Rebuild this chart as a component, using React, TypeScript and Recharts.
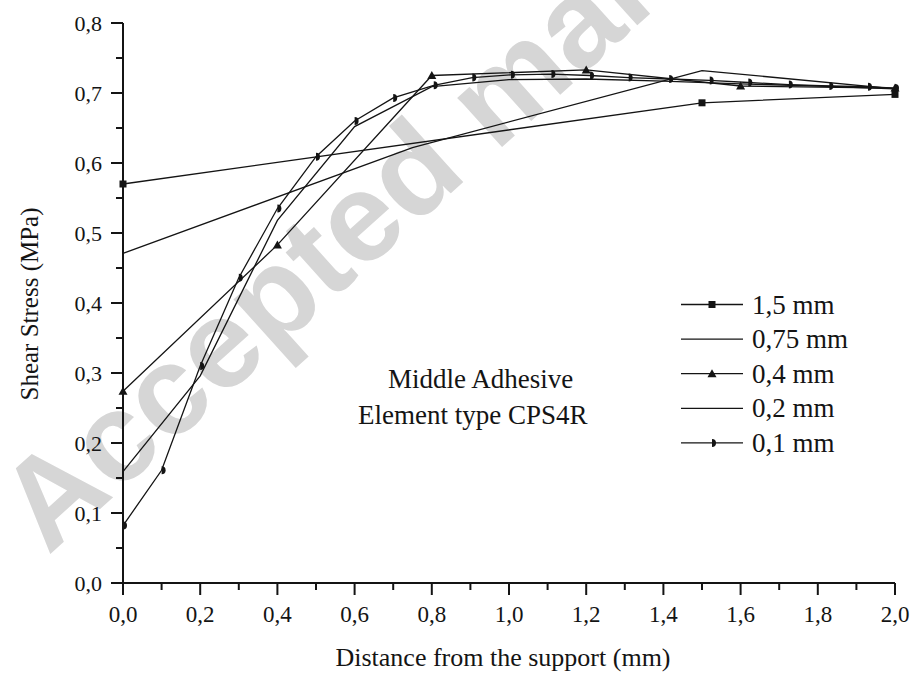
import { LineChart, Line, XAxis, YAxis, Legend } from 'recharts';

const FONT = '"Liberation Serif", "Times New Roman", serif';
const INK = '#141414';

// 1,5 mm mesh
const x15 = [0, 1.5, 2.0];
const y15 = [0.57, 0.686, 0.698];

// 0,75 mm mesh
const x075 = [0, 0.75, 1.5, 2.0];
const y075 = [0.471, 0.622, 0.732, 0.706];

// 0,4 mm mesh
const x04 = [0, 0.4, 0.8, 1.2, 1.6, 2.0];
const y04 = [0.274, 0.483, 0.725, 0.733, 0.71, 0.707];

// 0,2 mm mesh
const x02 = [0, 0.2, 0.4, 0.6, 0.8, 1.0, 1.2, 1.4, 1.6, 1.8, 2.0];
const y02 = [0.159, 0.296, 0.518, 0.652, 0.709, 0.719, 0.72, 0.717, 0.713, 0.71, 0.706];

// 0,1 mm mesh
const x01 = [0, 0.1, 0.2, 0.3, 0.4, 0.5, 0.6, 0.7, 0.805, 0.905, 1.005, 1.11, 1.21, 1.31, 1.415, 1.52, 1.62, 1.725, 1.83, 1.93, 2.0];
const y01 = [0.082, 0.161, 0.31, 0.436, 0.535, 0.609, 0.66, 0.693, 0.711, 0.722, 0.726, 0.727, 0.725, 0.722, 0.72, 0.718, 0.715, 0.712, 0.71, 0.709, 0.707];

const xTicks = [0, 0.1, 0.2, 0.3, 0.4, 0.5, 0.6, 0.7, 0.8, 0.9, 1.0, 1.1, 1.2, 1.3, 1.4, 1.5, 1.6, 1.7, 1.8, 1.9, 2.0];
const yTicks = [0, 0.05, 0.1, 0.15, 0.2, 0.25, 0.3, 0.35, 0.4, 0.45, 0.5, 0.55, 0.6, 0.65, 0.7, 0.75, 0.8];

type MarkerKind = 'square' | 'triangle' | 'half' | 'none';

const series = [
  { name: '1,5 mm', xs: x15, ys: y15, marker: 'square' as MarkerKind },
  { name: '0,75 mm', xs: x075, ys: y075, marker: 'none' as MarkerKind },
  { name: '0,4 mm', xs: x04, ys: y04, marker: 'triangle' as MarkerKind },
  { name: '0,2 mm', xs: x02, ys: y02, marker: 'none' as MarkerKind },
  { name: '0,1 mm', xs: x01, ys: y01, marker: 'half' as MarkerKind },
].map((s) => ({ ...s, data: s.xs.map((x, i) => ({ x, y: s.ys[i] })) }));

function Marker({ kind, cx, cy }: { kind: MarkerKind; cx: number; cy: number }) {
  if (kind === 'square') return <rect x={cx - 3.5} y={cy - 3.5} width={7} height={7} fill={INK} />;
  if (kind === 'triangle')
    return <path d={`M${cx},${cy - 4.5} L${cx + 4.5},${cy + 3.5} L${cx - 4.5},${cy + 3.5} Z`} fill={INK} />;
  if (kind === 'half') return <path d={`M${cx},${cy - 4} A4,4 0 0 1 ${cx},${cy + 4} Z`} fill={INK} />;
  return null;
}

const fmt = (v: number) => v.toFixed(1).replace('.', ',');

function XTick({ x, y, payload }: any) {
  const major = Math.round(payload.value * 10) % 2 === 0;
  return (
    <g>
      <line x1={x} x2={x} y1={y} y2={y + (major ? 12 : 7)} stroke={INK} strokeWidth={2} />
      {major && (
        <text x={x} y={y + 39} textAnchor="middle" fontSize={23} fontFamily={FONT} fill={INK}>
          {fmt(payload.value)}
        </text>
      )}
    </g>
  );
}

function YTick({ x, y, payload }: any) {
  const major = Math.round(payload.value * 100) % 10 === 0;
  return (
    <g>
      <line x1={x} x2={x - (major ? 12 : 7)} y1={y} y2={y} stroke={INK} strokeWidth={2} />
      {major && (
        <text x={x - 21} y={y + 8} textAnchor="end" fontSize={22} fontFamily={FONT} fill={INK}>
          {fmt(payload.value)}
        </text>
      )}
    </g>
  );
}

function LegendBox() {
  return (
    <svg width={230} height={180}>
      {series.map((s, i) => {
        const cy = 19.5 + i * 34.6;
        return (
          <g key={s.name}>
            <line x1={6} x2={68} y1={cy} y2={cy} stroke={INK} strokeWidth={1.3} />
            <Marker kind={s.marker} cx={37} cy={cy} />
            <text x={77} y={cy + 9} fontSize={27} fontFamily={FONT} fill={INK}>
              {s.name}
            </text>
          </g>
        );
      })}
    </svg>
  );
}

export default function App() {
  return (
    <div style={{ position: 'absolute', left: 0, top: 0, width: 912, height: 673, overflow: 'hidden', background: '#fff' }}>
      {/* faint diagonal stamp behind the plot */}
      <svg width={912} height={673} style={{ position: 'absolute', left: 0, top: 0 }}>
        <text
          x={48}
          y={556}
          transform="rotate(-42 48 556)"
          fontSize={126}
          fontWeight="bold"
          fontFamily='"Liberation Sans", Arial, sans-serif'
          fill="#d6d6d6"
        >
          Accepted manuscript
        </text>
      </svg>
      <div style={{ position: 'absolute', left: 0, top: 0 }}>
        <LineChart width={912} height={673} margin={{ top: 23, right: 17, bottom: 0, left: 0 }}>
          <XAxis
            dataKey="x"
            type="number"
            domain={[0, 2]}
            ticks={xTicks}
            interval={0}
            height={90}
            tickSize={0}
            tickMargin={0}
            tickLine={false}
            axisLine={{ stroke: INK, strokeWidth: 2 }}
            tick={<XTick />}
            label={{
              content: () => (
                <text x={503} y={666} textAnchor="middle" fontSize={26} fontFamily={FONT} fill={INK}>
                  Distance from the support (mm)
                </text>
              ),
            }}
          />
          <YAxis
            type="number"
            domain={[0, 0.8]}
            ticks={yTicks}
            interval={0}
            width={123}
            tickSize={0}
            tickMargin={0}
            tickLine={false}
            axisLine={{ stroke: INK, strokeWidth: 2 }}
            tick={<YTick />}
            label={{
              content: () => (
                <text
                  x={38}
                  y={304}
                  transform="rotate(-90 38 304)"
                  textAnchor="middle"
                  fontSize={25}
                  fontFamily={FONT}
                  fill={INK}
                >
                  Shear Stress (MPa)
                </text>
              ),
            }}
          />
          {series.map((s) => (
            <Line
              key={s.name}
              name={s.name}
              data={s.data}
              dataKey="y"
              type="linear"
              stroke={INK}
              strokeWidth={1.3}
              dot={(p: any) => <Marker key={`${s.name}-${p.index}`} kind={s.marker} cx={p.cx} cy={p.cy} />}
              activeDot={false}
              isAnimationActive={false}
            />
          ))}
          <Legend
            layout="horizontal"
            verticalAlign="middle"
            align="center"
            wrapperStyle={{ position: 'absolute', left: 675, top: 285, width: 230, height: 180 }}
            content={() => <LegendBox />}
          />
        </LineChart>
      </div>
      <svg width={912} height={673} style={{ position: 'absolute', left: 0, top: 0, pointerEvents: 'none' }}>
        <text x={388} y={388} fontSize={27} fontFamily={FONT} fill={INK}>
          Middle Adhesive
        </text>
        <text x={358} y={424} fontSize={27} fontFamily={FONT} fill={INK}>
          Element type CPS4R
        </text>
      </svg>
    </div>
  );
}
